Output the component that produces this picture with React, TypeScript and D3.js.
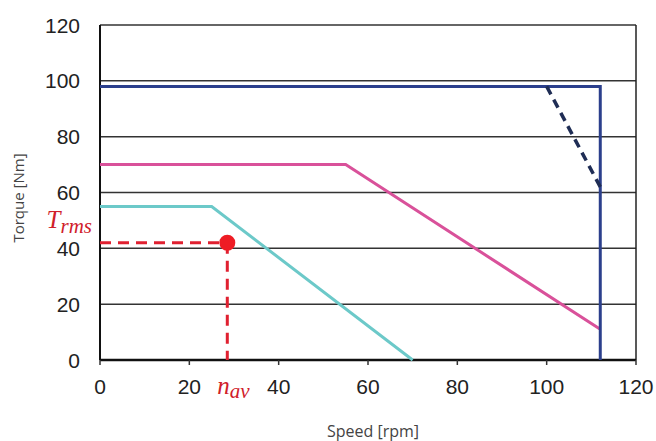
import React from "react";
import * as d3 from "d3";

// speed [rpm], torque [Nm]
const peakSpeed = [0, 112, 112];
const peakTorque = [98, 98, 0];
const peakDashSpeed = [100, 112];
const peakDashTorque = [98, 62];
const contSpeed = [0, 55, 112];
const contTorque = [70, 70, 11];
const loadSpeed = [0, 25, 70];
const loadTorque = [55, 55, 0];
const opSpeed = 28.5;
const opTorque = 42;
const xTicks = [0, 20, 40, 60, 80, 100, 120];
const yTicks = [0, 20, 40, 60, 80, 100, 120];

const W = 656;
const H = 441;
const margin = { left: 100, right: 20, top: 25, bottom: 81 };

const x = d3.scaleLinear().domain([0, 120]).range([margin.left, W - margin.right]);
const y = d3.scaleLinear().domain([0, 120]).range([H - margin.bottom, margin.top]);

const line = d3
  .line<[number, number]>()
  .x((d) => x(d[0]))
  .y((d) => y(d[1]));

const pts = (xs: number[], ys: number[]) => xs.map((v, i) => [v, ys[i]] as [number, number]);

export default function App() {
  const tickFont = "Liberation Sans, Arial, sans-serif";
  const mathFont = "Liberation Serif, serif";
  return (
    <svg width={W} height={H} style={{ position: "absolute", left: 0, top: 0, background: "#fff" }}>
      {/* grid */}
      {yTicks.map((t) => (
        <line key={"g" + t} x1={x(0)} x2={x(120)} y1={y(t)} y2={y(t)} stroke="#333" strokeWidth={1.5} />
      ))}
      <line x1={x(120)} x2={x(120)} y1={y(0)} y2={y(120)} stroke="#222" strokeWidth={1.5} />
      <line x1={x(0)} x2={x(0)} y1={y(0)} y2={y(120)} stroke="#111" strokeWidth={2} />
      <line x1={x(0)} x2={x(120)} y1={y(0)} y2={y(0)} stroke="#111" strokeWidth={2.5} />
      {xTicks.map((t) => (
        <line key={"xt" + t} x1={x(t)} x2={x(t)} y1={y(0)} y2={y(0) + 5} stroke="#333" strokeWidth={1.5} />
      ))}

      {/* tick labels */}
      {yTicks.map((t) => (
        <text key={"yl" + t} x={x(0) - 20} y={y(t)} dy="0.36em" textAnchor="end" fontFamily={tickFont} fontSize={21} fill="#222">
          {t}
        </text>
      ))}
      {xTicks.map((t) => (
        <text key={"xl" + t} x={x(t)} y={y(0) + 34} textAnchor="middle" fontFamily={tickFont} fontSize={21} fill="#222">
          {t}
        </text>
      ))}

      {/* curves */}
      <path d={line(pts(loadSpeed, loadTorque)) || ""} fill="none" stroke="#6cc9c9" strokeWidth={3} />
      <path d={line(pts(contSpeed, contTorque)) || ""} fill="none" stroke="#d9519a" strokeWidth={3} />
      <path d={line(pts(peakSpeed, peakTorque)) || ""} fill="none" stroke="#2b3f8c" strokeWidth={3} />
      <path d={line(pts(peakDashSpeed, peakDashTorque)) || ""} fill="none" stroke="#1f2d55" strokeWidth={3.5} strokeDasharray="9,6" />

      {/* operating point */}
      <line x1={x(0)} x2={x(opSpeed)} y1={y(opTorque)} y2={y(opTorque)} stroke="#e02030" strokeWidth={3} strokeDasharray="11,7" />
      <line x1={x(opSpeed)} x2={x(opSpeed)} y1={y(opTorque)} y2={y(0)} stroke="#e02030" strokeWidth={3} strokeDasharray="11,7" />
      <circle cx={x(opSpeed)} cy={y(opTorque)} r={8} fill="#ee1c24" />

      <text x={x(0) - 8} y={y(opTorque) - 15} textAnchor="end" fontFamily={mathFont} fontStyle="italic" fontSize={25} fill="#d0202a">
        T<tspan fontSize={21} dy={5}>rms</tspan>
      </text>
      <text x={x(opSpeed) - 10} y={y(0) + 34} fontFamily={mathFont} fontStyle="italic" fontSize={25} fill="#d0202a">
        n<tspan fontSize={21} dy={4}>av</tspan>
      </text>

      {/* axis titles */}
      <text x={373} y={437} textAnchor="middle" fontFamily="Open Sans, sans-serif" fontSize={16} fill="#444">
        Speed [rpm]
      </text>
      <text transform="translate(24,198) rotate(-90)" textAnchor="middle" fontFamily="Open Sans, sans-serif" fontSize={15} fill="#444">
        Torque [Nm]
      </text>
    </svg>
  );
}
